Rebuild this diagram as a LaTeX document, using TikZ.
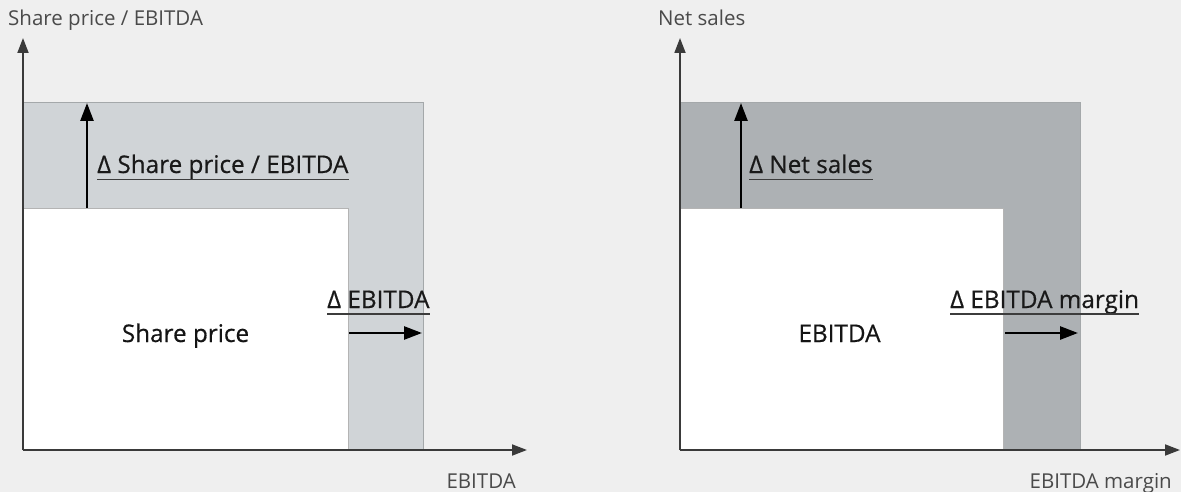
\documentclass[tikz,border=0pt]{standalone}
\usepackage{fontspec}
\setmainfont{Open Sans}
\newfontfamily\medfont[FakeBold=0.5]{Open Sans}
\usetikzlibrary{arrows.meta}

\definecolor{bg}{HTML}{EFEFEF}
\definecolor{bandlight}{HTML}{D0D4D7}
\definecolor{banddark}{HTML}{ADB1B4}
\definecolor{bandedge}{HTML}{A4A8AA}
\definecolor{coreedge}{HTML}{B4B4B4}
\definecolor{axisline}{HTML}{3A3A3A}
\definecolor{axistext}{HTML}{4A4A4A}
\definecolor{ruleline}{HTML}{3C3C3C}

\tikzset{
  axis/.style={draw=axisline, line width=1.8pt,
    -{Triangle[length=15pt,width=11pt]}},
  growth/.style={draw=black, line width=2.6pt,
    -{Triangle[length=18pt,width=13pt]}},
  axislabel/.style={inner sep=0pt, text=axistext,
    font=\fontsize{20.5}{24}\selectfont},
  deltalabel/.style={inner sep=0pt, text=black!90,
    font=\medfont\fontsize{24.3}{28}\selectfont},
  corelabel/.style={inner sep=0pt, text=black!92,
    font=\medfont\fontsize{24.3}{28}\selectfont},
  underline/.style={draw=ruleline, line width=1.4pt},
  band/.style={draw=bandedge, line width=1pt},
  core/.style={fill=white, draw=coreedge, line width=1pt},
}

\begin{document}
\begin{tikzpicture}[x=1pt, y=-1pt]
  % canvas
  \fill[bg] (0,0) rectangle (1181,492);
  \useasboundingbox (0,0) rectangle (1181,492);

  % ---------- left panel: share price = multiple x EBITDA ----------
  \path[band, fill=bandlight] (23,103) rectangle (423,450);
  \path[core] (23,208) rectangle (348,450);

  \coordinate (LO) at (23,450);
  \coordinate (LY) at (23,38);
  \coordinate (LX) at (527,450);
  \draw[axis] (LO) -- (LY);
  \draw[axis] (LO) -- (LX);

  \node[axislabel, anchor=base west] (lyl) at (8,26) {Share price / EBITDA};
  \node[axislabel, anchor=base east] (lxl) at (516,488) {EBITDA};

  \coordinate (lup0) at (87,208);
  \coordinate (lup1) at (87,103);
  \draw[growth] (lup0) -- (lup1);
  \coordinate (lrt0) at (349,333);
  \coordinate (lrt1) at (422,333);
  \draw[growth] (lrt0) -- (lrt1);

  \node[deltalabel, anchor=base west] (ldm) at (97,173) {Δ Share price / EBITDA};
  \draw[underline] ([yshift=-6.5pt]ldm.base west) -- ([yshift=-6.5pt]ldm.base east);
  \node[deltalabel, anchor=base west] (lde) at (327,308) {Δ EBITDA};
  \draw[underline] ([yshift=-6pt]lde.base west) -- ([yshift=-6pt]lde.base east);

  \node[corelabel, anchor=base] (lcore) at (185.5,342) {Share price};

  % ---------- right panel: EBITDA = margin x net sales ----------
  \path[band, fill=banddark] (680,103) rectangle (1080,450);
  \path[core] (680,208) rectangle (1003,450);

  \coordinate (RO) at (680,450);
  \coordinate (RY) at (680,38);
  \coordinate (RX) at (1180,450);
  \draw[axis] (RO) -- (RY);
  \draw[axis] (RO) -- (RX);

  \node[axislabel, anchor=base west] (ryl) at (658,26) {Net sales};
  \node[axislabel, anchor=base east] (rxl) at (1172,488) {EBITDA margin};

  \coordinate (rup0) at (741,208);
  \coordinate (rup1) at (741,103);
  \draw[growth] (rup0) -- (rup1);
  \coordinate (rrt0) at (1005,333);
  \coordinate (rrt1) at (1078,333);
  \draw[growth] (rrt0) -- (rrt1);

  \node[deltalabel, anchor=base west] (rdn) at (749,173) {Δ Net sales};
  \draw[underline] ([yshift=-6.5pt]rdn.base west) -- ([yshift=-6.5pt]rdn.base east);
  \node[deltalabel, anchor=base west] (rdm) at (950,308) {Δ EBITDA margin};
  \draw[underline] ([yshift=-6pt]rdm.base west) -- ([yshift=-6pt]rdm.base east);

  \node[corelabel, anchor=base] (rcore) at (839.5,342) {EBITDA};
\end{tikzpicture}
\end{document}
